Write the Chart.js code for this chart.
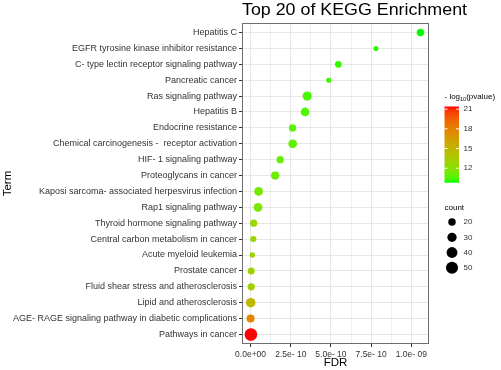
<!DOCTYPE html>
<html>
<head>
<meta charset="utf-8">
<script src="https://cdn.jsdelivr.net/npm/chart.js@4"></script>
<style>
html,body{margin:0;padding:0;background:#fff;}
#wrap{width:501px;height:370px;position:relative;}
</style>
</head>
<body>
<div id="wrap"><canvas id="c" width="501" height="370"></canvas></div>
<script>
// ---- data (top row first) ----
const terms = [
  'Hepatitis C',
  'EGFR tyrosine kinase inhibitor resistance',
  'C- type lectin receptor signaling pathway',
  'Pancreatic cancer',
  'Ras signaling pathway',
  'Hepatitis B',
  'Endocrine resistance',
  'Chemical carcinogenesis -  receptor activation',
  'HIF- 1 signaling pathway',
  'Proteoglycans in cancer',
  'Kaposi sarcoma- associated herpesvirus infection',
  'Rap1 signaling pathway',
  'Thyroid hormone signaling pathway',
  'Central carbon metabolism in cancer',
  'Acute myeloid leukemia',
  'Prostate cancer',
  'Fluid shear stress and atherosclerosis',
  'Lipid and atherosclerosis',
  'AGE- RAGE signaling pathway in diabetic complications',
  'Pathways in cancer'
];
const fdr = [1.057e-9, 0.78e-9, 0.546e-9, 0.486e-9, 0.352e-9, 0.339e-9, 0.261e-9, 0.262e-9,
  0.184e-9, 0.153e-9, 0.050e-9, 0.046e-9, 0.019e-9, 0.017e-9, 0.011e-9, 0.004e-9,
  0.004e-9, 0.001e-9, 0.0, 0.002e-9];
const counts = [20, 10, 17, 10, 30, 27, 19, 27, 19, 24, 27, 27, 19, 14, 11, 18, 19, 32, 23, 54];
const logP = [9.8, 10.0, 10.1, 10.2, 10.4, 10.5, 10.7, 10.8, 11.0, 11.1, 11.4, 11.5, 12.6, 12.8,
  12.9, 13.1, 13.2, 14.8, 17.8, 21.4];
const titleText = 'Top 20 of KEGG Enrichment';
const xTickLabels = ['0.0e+00', '2.5e- 10', '5.0e- 10', '7.5e- 10', '1.0e- 09'];
const colorTicks = [12, 15, 18, 21];
const sizeBreaks = [20, 30, 40, 50];

// ---- style helpers ----
const FONT = "'Liberation Sans', Arial, sans-serif";
function sizeOf(c){ return 0.9 * Math.sqrt(c) - 0.3; }
function toLin(c){ c/=255; return c<=0.04045? c/12.92 : Math.pow((c+0.055)/1.055,2.4); }
function toS(c){ c = c<=0.0031308? 12.92*c : 1.055*Math.pow(c,1/2.4)-0.055; return Math.max(0,Math.min(255,Math.round(c*255))); }
const WX=0.95047, WY=1, WZ=1.08883;
function rgb2lab(r,g,b){
  r=toLin(r); g=toLin(g); b=toLin(b);
  let X=(r*0.4124+g*0.3576+b*0.1805)/WX, Y=(r*0.2126+g*0.7152+b*0.0722)/WY, Z=(r*0.0193+g*0.1192+b*0.9505)/WZ;
  const f=t=> t>0.008856? Math.cbrt(t) : 7.787*t+16/116;
  const fx=f(X), fy=f(Y), fz=f(Z);
  return [116*fy-16, 500*(fx-fy), 200*(fy-fz)];
}
function lab2rgb(L,a,b){
  const fy=(L+16)/116, fx=fy+a/500, fz=fy-b/200;
  const fi=t=> t*t*t>0.008856? t*t*t : (t-16/116)/7.787;
  const X=fi(fx)*WX, Y=fi(fy)*WY, Z=fi(fz)*WZ;
  const r= 3.2406*X-1.5372*Y-0.4986*Z, g=-0.9689*X+1.8758*Y+0.0415*Z, bb=0.0557*X-0.2040*Y+1.0570*Z;
  return 'rgb('+toS(r)+','+toS(g)+','+toS(bb)+')';
}
const LOW = rgb2lab(0,255,0), HIGH = rgb2lab(255,0,0);
const cMin = Math.min(...logP), cMax = Math.max(...logP);
function colorOf(v){
  const t = Math.max(0, Math.min(1, (v - cMin) / (cMax - cMin)));
  return lab2rgb(LOW[0]+(HIGH[0]-LOW[0])*t, LOW[1]+(HIGH[1]-LOW[1])*t, LOW[2]+(HIGH[2]-LOW[2])*t);
}

const n = terms.length;
const points = terms.map((t, i) => ({ x: fdr[i], y: n - 1 - i, r: sizeOf(counts[i]) }));
const pointColors = logP.map(colorOf);

function stretchedText(ctx, text, x, y, font, targetW) {
  ctx.font = font;
  const w = ctx.measureText(text).width;
  ctx.save();
  ctx.translate(x, y);
  ctx.scale(targetW / w, 1);
  ctx.fillText(text, 0, 0);
  ctx.restore();
}

// ---- title, legend + panel border plugin ----
const legendPlugin = {
  id: 'ggLegend',
  afterDraw(chart) {
    const ctx = chart.ctx, a = chart.chartArea;
    ctx.save();
    // panel border
    ctx.strokeStyle = '#6e6e6e'; ctx.lineWidth = 1;
    ctx.strokeRect(Math.round(a.left) + 0.5, Math.round(a.top) + 0.5, Math.round(a.right - a.left) - 1, Math.round(a.bottom - a.top) - 1);

    // title
    ctx.fillStyle = '#000'; ctx.textAlign = 'left'; ctx.textBaseline = 'alphabetic';
    stretchedText(ctx, titleText, a.left, 14.5, '16px ' + FONT, 225);

    // colour legend title
    const lx = 444.5;
    ctx.fillStyle = '#000'; ctx.textBaseline = 'alphabetic'; ctx.textAlign = 'left';
    let tx = lx;
    ctx.font = '8px ' + FONT;
    ctx.fillText('- log', tx, 99); tx += ctx.measureText('- log').width;
    ctx.font = '5.5px ' + FONT;
    ctx.fillText('10', tx, 101); tx += ctx.measureText('10').width;
    ctx.font = '8px ' + FONT;
    ctx.fillText('(pvalue)', tx, 99);

    // colour bar
    const bx = 444.5, bw = 14.5, bTop = 106.5, bBot = 182.7;
    const grad = ctx.createLinearGradient(0, bBot, 0, bTop);
    for (let k = 0; k <= 20; k++) {
      grad.addColorStop(k / 20, colorOf(cMin + (cMax - cMin) * k / 20));
    }
    ctx.fillStyle = grad;
    ctx.fillRect(bx, bTop, bw, bBot - bTop);
    ctx.strokeStyle = '#fff'; ctx.lineWidth = 1;
    ctx.font = '8px ' + FONT; ctx.fillStyle = '#333'; ctx.textBaseline = 'middle';
    colorTicks.forEach(v => {
      const y = bBot - (v - cMin) / (cMax - cMin) * (bBot - bTop);
      ctx.beginPath();
      ctx.moveTo(bx, y); ctx.lineTo(bx + 3, y);
      ctx.moveTo(bx + bw - 3, y); ctx.lineTo(bx + bw, y);
      ctx.stroke();
      ctx.fillText(String(v), 463.5, y);
    });

    // size legend
    ctx.fillStyle = '#000'; ctx.textBaseline = 'alphabetic';
    ctx.font = '8px ' + FONT;
    ctx.fillText('count', lx, 209.5);
    const ys = [222, 237.3, 252.5, 267.8];
    sizeBreaks.forEach((c, i) => {
      ctx.beginPath();
      ctx.fillStyle = '#000';
      ctx.arc(452, ys[i], sizeOf(c), 0, Math.PI * 2);
      ctx.fill();
      ctx.fillStyle = '#333'; ctx.textBaseline = 'middle';
      ctx.font = '8px ' + FONT;
      ctx.fillText(String(c), 463.5, ys[i]);
    });
    ctx.restore();
  }
};

new Chart(document.getElementById('c'), {
  type: 'bubble',
  data: {
    datasets: [{
      data: points,
      backgroundColor: pointColors,
      borderColor: pointColors,
      borderWidth: 0,
      hoverRadius: 0
    }]
  },
  plugins: [legendPlugin],
  options: {
    responsive: false,
    animation: false,
    devicePixelRatio: 1,
    events: [],
    layout: { padding: { left: 0, right: 72, top: 23, bottom: 0 } },
    plugins: {
      legend: { display: false },
      tooltip: { enabled: false },
      title: { display: false }
    },
    scales: {
      x: {
        type: 'linear',
        min: -0.0534e-9,
        max: 1.110e-9,
        afterBuildTicks(scale) {
          const t = [];
          for (let k = 0; k <= 8; k++) t.push({ value: k * 1.25e-10 });
          scale.ticks = t;
        },
        afterFit(scale) { scale.height = 26; },
        ticks: {
          autoSkip: false,
          maxRotation: 0,
          padding: 3,
          color: '#333',
          font: { family: FONT, size: 8.5 },
          callback(v, i) { return i % 2 === 0 ? xTickLabels[i / 2] : ''; }
        },
        grid: {
          color: c => (c.index % 2 === 0 ? '#e6e6e6' : '#efefef'),
          lineWidth: 1,
          tickLength: 3,
          tickColor: c => (c.index % 2 === 0 ? '#333' : 'rgba(0,0,0,0)')
        },
        border: { display: false },
        title: {
          display: true, text: 'FDR', color: '#000',
          font: { family: FONT, size: 11.5, lineHeight: 1.0 }, padding: { top: 0, bottom: 1 }
        }
      },
      y: {
        type: 'linear',
        min: -0.6,
        max: n - 1 + 0.6,
        afterBuildTicks(scale) {
          scale.ticks = terms.map((t, i) => ({ value: i }));
        },
        afterFit(scale) { scale.width = 242; },
        ticks: {
          autoSkip: false,
          padding: 2,
          color: '#333',
          font: { family: FONT, size: 9 },
          callback(v) { return terms[n - 1 - v]; }
        },
        grid: {
          color: '#e6e6e6',
          lineWidth: 1,
          tickLength: 3,
          tickColor: '#333'
        },
        border: { display: false },
        title: {
          display: true, text: 'Term', color: '#000',
          font: { family: FONT, size: 11.5, lineHeight: 1.0 }, padding: { top: 2, bottom: 0 }
        }
      }
    }
  }
});
</script>
</body>
</html>
